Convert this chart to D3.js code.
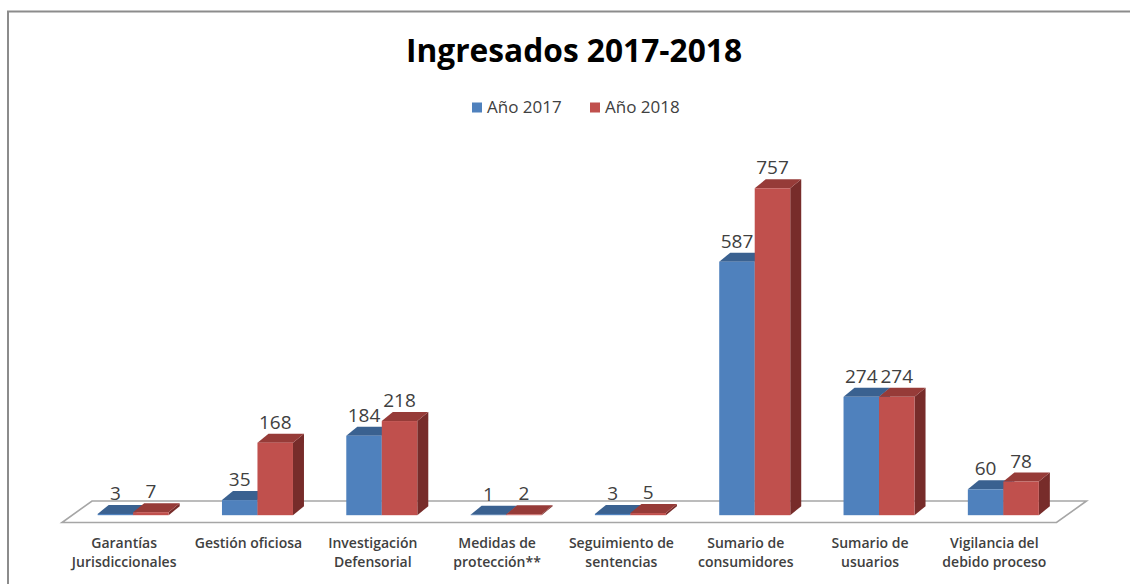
<!DOCTYPE html>
<html>
<head>
<meta charset="utf-8">
<script src="https://cdn.jsdelivr.net/npm/d3@7"></script>
<style>
  body { margin: 0; background: #fff; }
  svg { display: block; }
  .val { font-family: "Open Sans", sans-serif; font-size: 19px; fill: #404040; }
  .cat { font-family: "Open Sans", sans-serif; font-size: 14px; font-weight: 600; fill: #404040; }
</style>
</head>
<body>
<svg id="chart"></svg>
<script>
const categories = [
  ["Garantías", "Jurisdiccionales"],
  ["Gestión oficiosa"],
  ["Investigación", "Defensorial"],
  ["Medidas de", "protección**"],
  ["Seguimiento de", "sentencias"],
  ["Sumario de", "consumidores"],
  ["Sumario de", "usuarios"],
  ["Vigilancia del", "debido proceso"]
];
const series = ["Año 2017", "Año 2018"];
const values2017 = [3, 35, 184, 1, 3, 587, 274, 60];
const values2018 = [7, 168, 218, 2, 5, 757, 274, 78];

const W = 1130, H = 584;
const colors = {
  "Año 2017": { front: "#4F81BD", top: "#3A6190", side: "#385D8A" },
  "Año 2018": { front: "#C0504D", top: "#963B38", side: "#772C2A" }
};
// depth of the bars and of the floor
const bdx = 11, bdy = -9;
const floor = { x0: 62, x1: 1056.5, yf: 522.5, dx: 30, dy: -21.5 };

const svg = d3.select("#chart").attr("width", W).attr("height", H);

// frame
svg.append("path")
  .attr("d", "M8,584V11.5H1130")
  .attr("fill", "none")
  .attr("stroke", "#8c8c8c")
  .attr("stroke-width", 2);

// title
svg.append("text")
  .attr("x", 574).attr("y", 61.5)
  .attr("text-anchor", "middle")
  .attr("font-family", "'Open Sans', sans-serif")
  .attr("font-weight", 700)
  .attr("font-size", 32)
  .attr("fill", "#000")
  .attr("textLength", 336)
  .attr("lengthAdjust", "spacingAndGlyphs")
  .text("Ingresados 2017-2018");

// legend
const legendX = [472, 590];
const leg = svg.append("g").selectAll("g").data(series).enter().append("g")
  .attr("transform", (d, i) => "translate(" + legendX[i] + ",0)");
leg.append("rect")
  .attr("x", 0).attr("y", 102.5).attr("width", 10).attr("height", 10)
  .attr("fill", d => colors[d].front);
leg.append("text")
  .attr("x", 15).attr("y", 112.5)
  .attr("font-family", "'Open Sans', sans-serif")
  .attr("font-size", 17)
  .attr("fill", "#404040")
  .text(d => d);

// scales
const x = d3.scaleBand()
  .domain(d3.range(categories.length))
  .range([floor.x0, floor.x1])
  .paddingInner(0);
const xs = d3.scaleBand().domain(series).range([0, 71]);
const y = d3.scaleLinear().domain([0, 800]).range([515.2, 169.7]);

// floor
svg.append("path")
  .attr("d", "M" + floor.x0 + "," + floor.yf +
    "L" + floor.x1 + "," + floor.yf +
    "L" + (floor.x1 + floor.dx) + "," + (floor.yf + floor.dy) +
    "L" + (floor.x0 + floor.dx) + "," + (floor.yf + floor.dy) + "Z")
  .attr("fill", "#fff")
  .attr("stroke", "#a6a6a6")
  .attr("stroke-width", 1.6);

// bars
const rows = [];
categories.forEach((c, i) => {
  rows.push({ i: i, s: "Año 2017", v: values2017[i] });
  rows.push({ i: i, s: "Año 2018", v: values2018[i] });
});

const barX = d => x(d.i) + x.bandwidth() / 2 + 9 - 35.5 + xs(d.s);
const bw = xs.bandwidth();

const bars = svg.append("g").selectAll("g").data(rows).enter().append("g");

bars.append("path") // side
  .attr("d", d => {
    const x1 = barX(d) + bw, yt = y(d.v), yb = y(0);
    return "M" + x1 + "," + yb + "L" + x1 + "," + yt + "L" + (x1 + bdx) + "," + (yt + bdy) +
      "L" + (x1 + bdx) + "," + (yb + bdy) + "Z";
  })
  .attr("fill", d => colors[d.s].side);

bars.append("path") // top
  .attr("d", d => {
    const x0 = barX(d), yt = y(d.v);
    return "M" + x0 + "," + yt + "L" + (x0 + bdx) + "," + (yt + bdy) + "L" + (x0 + bw + bdx) + "," + (yt + bdy) +
      "L" + (x0 + bw) + "," + yt + "Z";
  })
  .attr("fill", d => colors[d.s].top);

bars.append("rect") // front
  .attr("x", d => barX(d))
  .attr("y", d => y(d.v))
  .attr("width", bw)
  .attr("height", d => y(0) - y(d.v))
  .attr("fill", d => colors[d.s].front);

// value labels
svg.append("g").selectAll("text").data(rows).enter().append("text")
  .attr("class", "val")
  .attr("x", d => barX(d) + bw / 2)
  .attr("y", d => y(d.v) + bdy - 5)
  .attr("text-anchor", "middle")
  .text(d => d.v);

// category labels
const cat = svg.append("g").selectAll("text").data(categories).enter().append("text")
  .attr("class", "cat")
  .attr("text-anchor", "middle")
  .attr("x", (d, i) => x(i) + x.bandwidth() / 2)
  .attr("y", 548);
cat.selectAll("tspan").data(d => d).enter().append("tspan")
  .attr("x", function() { return this.parentNode.getAttribute("x"); })
  .attr("dy", (d, j) => j === 0 ? 0 : 19)
  .text(d => d);
</script>
</body>
</html>
